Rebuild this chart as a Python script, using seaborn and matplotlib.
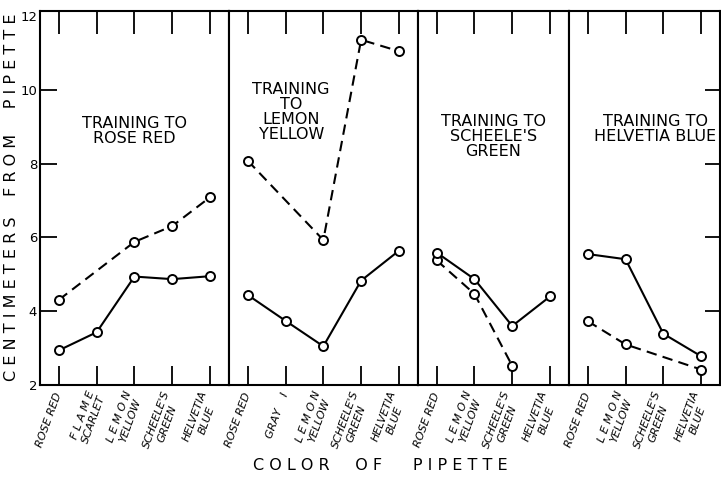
import numpy as np
import pandas as pd
import matplotlib
matplotlib.use("Agg")
import matplotlib.pyplot as plt
import seaborn as sns

nan = np.nan

# panel titles
titles = [
    "TRAINING TO\nROSE RED",
    "TRAINING\nTO\nLEMON\nYELLOW",
    "TRAINING TO\nSCHEELE'S\nGREEN",
    "TRAINING TO\nHELVETIA BLUE",
]

# pipette colours shown in each panel
p1_cats = ["ROSE RED", "F L A M E\nSCARLET", "L E M O N\nYELLOW", "SCHEELE'S\nGREEN", "HELVETIA\nBLUE"]
p2_cats = ["ROSE RED", "GRAY    I", "L E M O N\nYELLOW", "SCHEELE'S\nGREEN", "HELVETIA\nBLUE"]
p3_cats = ["ROSE RED", "L E M O N\nYELLOW", "SCHEELE'S\nGREEN", "HELVETIA\nBLUE"]
p4_cats = ["ROSE RED", "L E M O N\nYELLOW", "SCHEELE'S\nGREEN", "HELVETIA\nBLUE"]

# centimeters from pipette (solid and dashed curves)
p1_solid = [2.94, 3.43, 4.94, 4.87, 4.95]
p1_dashed = [4.31, nan, 5.88, 6.31, 7.09]
p2_solid = [4.44, 3.74, 3.05, 4.83, 5.64]
p2_dashed = [8.08, nan, 5.93, 11.36, 11.05]
p3_solid = [5.59, 4.87, 3.60, 4.40]
p3_dashed = [5.38, 4.47, 2.52, nan]
p4_solid = [5.55, 5.41, 3.39, 2.78]
p4_dashed = [3.73, 3.10, nan, 2.42]

y_ticks = [2, 4, 6, 8, 10, 12]

panels = [
    (p1_cats, p1_solid, p1_dashed),
    (p2_cats, p2_solid, p2_dashed),
    (p3_cats, p3_solid, p3_dashed),
    (p4_cats, p4_solid, p4_dashed),
]
title_pos = [(0.50, 0.68), (0.33, 0.73), (0.50, 0.665), (0.57, 0.685)]

sns.set_style("ticks", {"axes.edgecolor": "black", "xtick.color": "black",
                        "ytick.color": "black", "text.color": "black",
                        "axes.labelcolor": "black"})
plt.rcParams["font.family"] = ["DejaVu Sans"]

fig = plt.figure(figsize=(7.21, 4.78), dpi=100)
axes = fig.subplots(1, 4, sharey=True,
                    gridspec_kw=dict(width_ratios=[5, 5, 4, 4], wspace=0))
fig.subplots_adjust(left=40 / 721, right=720 / 721, top=1 - 11 / 478, bottom=1 - 385 / 478)

point_kws = dict(color="black", lw=1.5, marker="o", markersize=6.5,
                 markerfacecolor="white", markeredgecolor="black",
                 markeredgewidth=1.4)

for i, (ax, (cats, solid, dashed)) in enumerate(zip(axes, panels)):
    df = pd.DataFrame({"pos": range(len(cats)), "solid": solid, "dashed": dashed})
    d = df.dropna(subset=["dashed"])
    sns.lineplot(x=d["pos"], y=d["dashed"], ax=ax, linestyle=(0, (5, 3)), **point_kws)
    s = df.dropna(subset=["solid"])
    sns.lineplot(x=s["pos"], y=s["solid"], ax=ax, linestyle="-", **point_kws)

    ax.set_xlim(-0.5, len(cats) - 0.5)
    ax.set_ylim(2, 12.14)
    ax.set_xlabel("")
    ax.set_ylabel("")
    ax.set_xticks(range(len(cats)))
    ax.set_xticklabels(cats, rotation=70, ha="right", va="center",
                       rotation_mode="anchor", fontsize=8, style="italic",
                       multialignment="center")
    ax.tick_params(axis="x", direction="in", top=True, bottom=True,
                   length=14, width=1.3, pad=6)
    for t in ax.xaxis.get_major_ticks():
        t.tick2line.set_markersize(16.5)

    for sp in ax.spines.values():
        sp.set_visible(True)
        sp.set_linewidth(1.5)

    ax.text(title_pos[i][0], title_pos[i][1], titles[i], transform=ax.transAxes,
            ha="center", va="center", fontsize=11.5, linespacing=1.0)

    if i == 0:
        ax.set_yticks(y_ticks)
        ax.set_yticklabels([str(v) for v in y_ticks], fontsize=9.5)
        ax.tick_params(axis="y", direction="in", left=True, right=False,
                       length=12, width=1.3, pad=2)
        ax.yaxis.get_major_ticks()[-1].tick1line.set_visible(False)
        ax.yaxis.get_major_ticks()[0].tick1line.set_visible(False)
    elif i == 3:
        ax.tick_params(axis="y", direction="in", left=False, right=True,
                       labelleft=False, length=11, width=1.3)
        ax.yaxis.get_major_ticks()[-1].tick2line.set_visible(False)
        ax.yaxis.get_major_ticks()[0].tick2line.set_visible(False)
    else:
        ax.tick_params(axis="y", left=False, right=False, labelleft=False)

fig.text(12 / 721, 1 - 197 / 478,
         "C E N T I M E T E R S    F R O M     P I P E T T E",
         rotation=90, ha="center", va="center", fontsize=11.5)
fig.text(380 / 721, 1 - 466 / 478,
         "C O L O R     O F      P I P E T T E",
         ha="center", va="center", fontsize=11.5)

fig.savefig("out.png", dpi=100, facecolor="white")
